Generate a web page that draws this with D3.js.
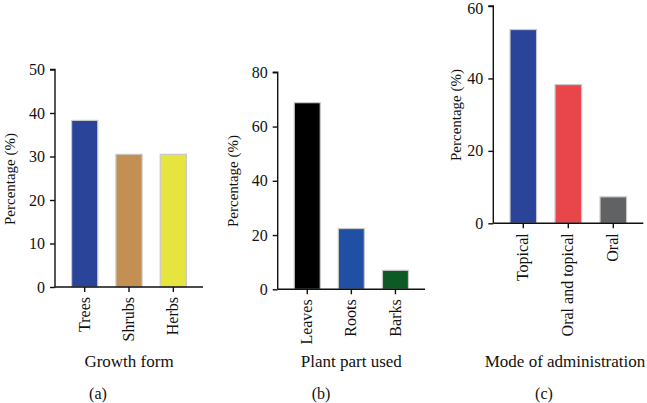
<!DOCTYPE html>
<html>
<head>
<meta charset="utf-8">
<script src="https://cdn.jsdelivr.net/npm/d3@7"></script>
<style>
  html, body { margin: 0; padding: 0; background: #fff; }
  svg text { font-family: "Liberation Serif", "Times New Roman", serif; fill: #111; }
</style>
</head>
<body>
<svg id="chart" width="647" height="403"></svg>
<script>
// Panel (a): Growth form
const growthCategories = ["Trees", "Shrubs", "Herbs"];
const growthValues = [38.3, 30.5, 30.5];
const growthTicks = [0, 10, 20, 30, 40, 50];

// Panel (b): Plant part used
const partCategories = ["Leaves", "Roots", "Barks"];
const partValues = [68.8, 22.4, 7.0];
const partTicks = [0, 20, 40, 60, 80];

// Panel (c): Mode of administration
const modeCategories = ["Topical", "Oral and topical", "Oral"];
const modeValues = [53.5, 38.3, 7.3];
const modeTicks = [0, 20, 40, 60];

const panels = [
  { cats: growthCategories, vals: growthValues, ticks: growthTicks, max: 50,
    colors: ["#2a4499", "#c48f52", "#e6e53f"],
    ax: 55, axEnd: 203, y0: 287, y1: 69.5, ylabX: 10, ylabY: 179,
    title: "Growth form", titleX: 129, tag: "(a)", tagX: 98 },
  { cats: partCategories, vals: partValues, ticks: partTicks, max: 80,
    colors: ["#000000", "#2050a3", "#0d5a24"],
    ax: 277.7, axEnd: 425, y0: 289.3, y1: 72.3, ylabX: 233, ylabY: 181,
    title: "Plant part used", titleX: 351.3, tag: "(b)", tagX: 321 },
  { cats: modeCategories, vals: modeValues, ticks: modeTicks, max: 60,
    colors: ["#2a4499", "#e8464b", "#616263"],
    ax: 493.3, axEnd: 643.3, y0: 223.3, y1: 6, ylabX: 456, ylabY: 115,
    title: "Mode of administration", titleX: 565, tag: "(c)", tagX: 544 }
];

const svg = d3.select("#chart");

panels.forEach(p => {
  const g = svg.append("g");
  const x = d3.scaleBand().domain(p.cats)
    .range([p.ax + 7.5, p.axEnd - 7.5]).paddingInner(0.41).paddingOuter(0.205);
  const y = d3.scaleLinear().domain([0, p.max]).range([p.y0, p.y1]);

  // bars
  g.selectAll("rect.bar").data(p.cats).enter().append("rect")
    .attr("class", "bar")
    .attr("x", d => x(d))
    .attr("width", x.bandwidth())
    .attr("y", (d, i) => y(p.vals[i]))
    .attr("height", (d, i) => y(0) - y(p.vals[i]))
    .attr("fill", (d, i) => p.colors[i])
    .attr("stroke", "#c9c9c9")
    .attr("stroke-width", 1.2);

  // y axis
  const yAxis = d3.axisLeft(y).tickValues(p.ticks).tickSize(5).tickPadding(5).tickFormat(d3.format("d"));
  const ya = g.append("g").attr("transform", `translate(${p.ax},0)`).call(yAxis);
  ya.select(".domain").attr("stroke", "#111").attr("stroke-width", 1.4).attr("d", `M-5,${p.y1}H0V${p.y0}`);
  ya.selectAll(".tick line").attr("stroke", "#111").attr("stroke-width", 1.4);
  ya.selectAll(".tick text").style("font-size", "16px").attr("fill", "#111")
    .attr("y", d => Math.max(0, 8.5 - y(d)));

  // x axis
  const xAxis = d3.axisBottom(x).tickSize(5).tickPadding(0);
  const xa = g.append("g").attr("transform", `translate(0,${p.y0})`).call(xAxis);
  xa.select(".domain").attr("stroke", "#111").attr("stroke-width", 1.4).attr("d", `M${p.ax},0H${p.axEnd}`);
  xa.selectAll(".tick line").attr("stroke", "#111").attr("stroke-width", 1.4);
  xa.selectAll(".tick text")
    .style("font-size", "16px")
    .attr("fill", "#111")
    .attr("transform", "rotate(-90)")
    .attr("text-anchor", "end")
    .attr("x", -10)
    .attr("y", 0)
    .attr("dy", "0.32em");

  // y label
  g.append("text")
    .attr("transform", `translate(${p.ylabX},${p.ylabY}) rotate(-90)`)
    .attr("text-anchor", "middle")
    .attr("dy", "0.35em")
    .style("font-size", "15px")
    .text("Percentage (%)");

  // x title
  g.append("text")
    .attr("x", p.titleX)
    .attr("y", 367)
    .attr("text-anchor", "middle")
    .style("font-size", "17px")
    .text(p.title);

  // tag
  g.append("text")
    .attr("x", p.tagX)
    .attr("y", 399)
    .attr("text-anchor", "middle")
    .style("font-size", "16px")
    .text(p.tag);
});
</script>
</body>
</html>
